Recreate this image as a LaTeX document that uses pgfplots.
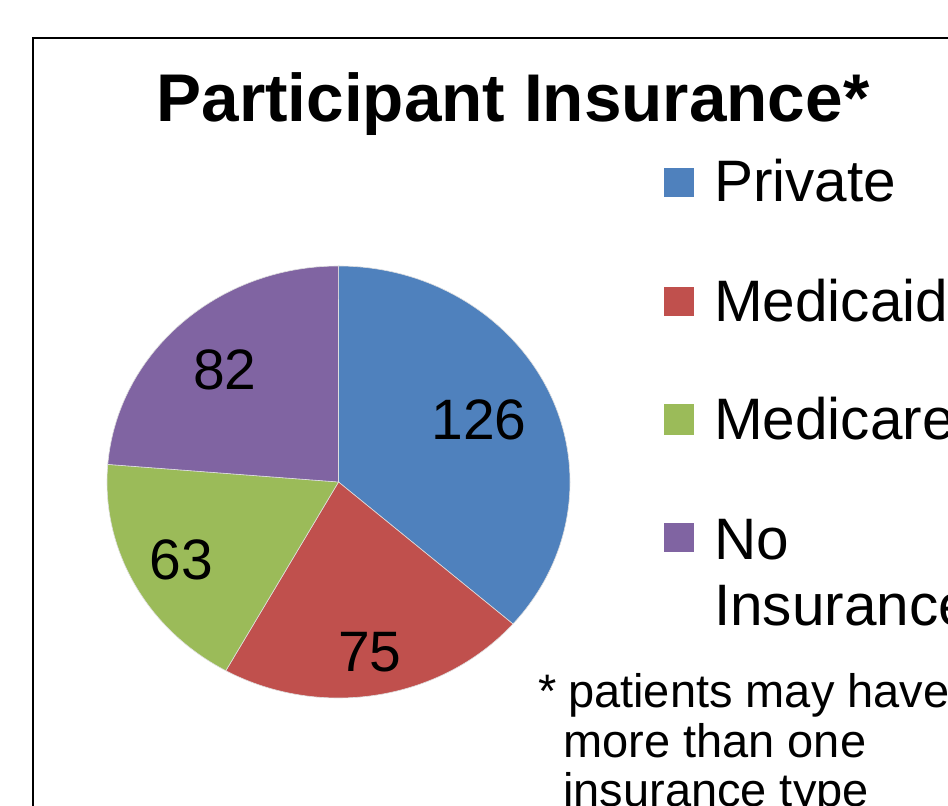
\documentclass[border=0pt]{standalone}
\usepackage{pgfplots}
\pgfplotsset{compat=1.18}
\usepackage{fontspec}
\setmainfont{Liberation Sans}
\definecolor{cPriv}{HTML}{4F81BD}
\definecolor{cMcaid}{HTML}{C0504D}
\definecolor{cMcare}{HTML}{9BBB59}
\definecolor{cNone}{HTML}{8064A2}
% data: Private 126, Medicaid 75, Medicare 63, No Insurance 82
\def\vA{126}\def\vB{75}\def\vC{63}\def\vD{82}
\pgfmathsetmacro\total{\vA+\vB+\vC+\vD}
\pgfmathsetmacro\aA{90}
\pgfmathsetmacro\aB{\aA-360*(\vA/\total)}
\pgfmathsetmacro\aC{\aB-360*(\vB/\total)}
\pgfmathsetmacro\aD{\aC-360*(\vC/\total)}
\pgfmathsetmacro\aE{\aD-360*(\vD/\total)}
\begin{document}
\begin{tikzpicture}
\clip (0,0) rectangle (948pt,806pt);
\begin{axis}[x=1pt,y=1pt,xmin=0,xmax=948,ymin=0,ymax=806,
  hide axis, scale only axis, clip=false, at={(0,0)}, anchor=south west]
\path (axis cs:0,0) rectangle (axis cs:948,806);
% frame
\draw[overlay,line width=2pt,black] (axis cs:1100,768) -- (axis cs:33,768) -- (axis cs:33,-100);
% pie slices
\def\cx{338.5}\def\cy{324}
\fill[cPriv,draw=white!75!gray,line width=0.6pt] (axis cs:\cx,\cy) -- ([shift={(\aA:231.5pt and 216pt)}]axis cs:\cx,\cy) arc[start angle=\aA,end angle=\aB,x radius=231.5pt,y radius=216pt] -- cycle;
\fill[cMcaid,draw=white!75!gray,line width=0.6pt] (axis cs:\cx,\cy) -- ([shift={(\aB:231.5pt and 216pt)}]axis cs:\cx,\cy) arc[start angle=\aB,end angle=\aC,x radius=231.5pt,y radius=216pt] -- cycle;
\fill[cMcare,draw=white!75!gray,line width=0.6pt] (axis cs:\cx,\cy) -- ([shift={(\aC:231.5pt and 216pt)}]axis cs:\cx,\cy) arc[start angle=\aC,end angle=\aD,x radius=231.5pt,y radius=216pt] -- cycle;
\fill[cNone,draw=white!75!gray,line width=0.6pt] (axis cs:\cx,\cy) -- ([shift={(\aD:231.5pt and 216pt)}]axis cs:\cx,\cy) arc[start angle=\aD,end angle=\aE,x radius=231.5pt,y radius=216pt] -- cycle;
% slice labels
\node[anchor=base,font=\fontsize{57}{57}\selectfont,inner sep=0] at (axis cs:479,366) {126};
\node[anchor=base,font=\fontsize{57}{57}\selectfont,inner sep=0] at (axis cs:370,134) {75};
\node[anchor=base,font=\fontsize{57}{57}\selectfont,inner sep=0] at (axis cs:181.5,226) {63};
\node[anchor=base,font=\fontsize{57}{57}\selectfont,inner sep=0] at (axis cs:225,416) {82};
% title
\node[anchor=base,font=\fontsize{67.5}{67.5}\selectfont\bfseries,inner sep=0] at (axis cs:513,684) {Participant Insurance*};
% legend
\fill[cPriv] (axis cs:664,609) rectangle (axis cs:694,638);
\fill[cMcaid] (axis cs:664,490) rectangle (axis cs:694,519);
\fill[cMcare] (axis cs:664,371) rectangle (axis cs:694,402);
\fill[cNone] (axis cs:664,254) rectangle (axis cs:694,283);
\begin{scope}[overlay]
\node[anchor=base west,font=\fontsize{58.5}{58.5}\selectfont,inner sep=0] at (axis cs:714,604) {Private};
\node[anchor=base west,font=\fontsize{58.5}{58.5}\selectfont,inner sep=0] at (axis cs:714,484) {Medicaid};
\node[anchor=base west,font=\fontsize{58.5}{58.5}\selectfont,inner sep=0] at (axis cs:714,366) {Medicare};
\node[anchor=base west,font=\fontsize{58.5}{58.5}\selectfont,inner sep=0] at (axis cs:714,246) {No};
\node[anchor=base west,font=\fontsize{58.5}{58.5}\selectfont,inner sep=0] at (axis cs:714,180) {Insurance};
% footnote
\node[anchor=base west,font=\fontsize{47}{47}\selectfont,inner sep=0] at (axis cs:538,98) {*};
\node[anchor=base west,font=\fontsize{47}{47}\selectfont,inner sep=0] at (axis cs:568,98) {patients may have};
\node[anchor=base west,font=\fontsize{47}{47}\selectfont,inner sep=0] at (axis cs:563,48) {more than one};
\node[anchor=base west,font=\fontsize{47}{47}\selectfont,inner sep=0] at (axis cs:563,-1) {insurance type};
\end{scope}
\end{axis}
\end{tikzpicture}
\end{document}
